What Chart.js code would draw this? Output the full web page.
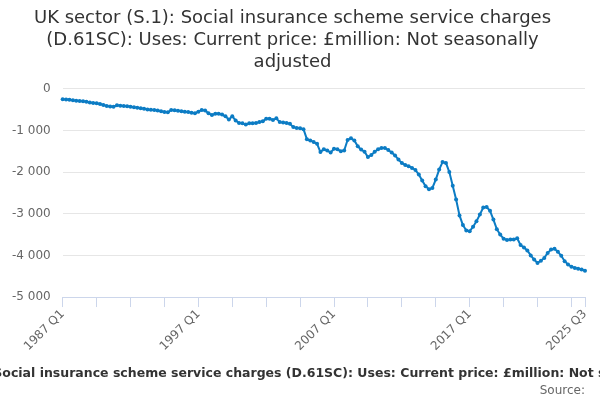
<!DOCTYPE html>
<html>
<head>
<meta charset="utf-8">
<script src="https://cdn.jsdelivr.net/npm/chart.js@4"></script>
<style>
  html, body { margin: 0; padding: 0; background: #fff; }
  #wrap { width: 600px; height: 400px; }
</style>
</head>
<body>
<div id="wrap"><canvas id="chartD61SC"></canvas></div>
<script>
// quarters 1987 Q1 .. 2025 Q3
var firstYear = 1987;
var lastYear = 2025;
var lastQuarter = 3;

// £million, one row per year
var values = [
  -250, -255, -265, -275,      // 1987
  -285, -295, -300, -310,      // 1988
  -330, -340, -345, -365,      // 1989
  -390, -410, -425, -430,      // 1990
  -395, -405, -415, -420,      // 1991
  -430, -440, -455, -465,      // 1992
  -480, -495, -505, -510,      // 1993
  -520, -540, -555, -565,      // 1994
  -510, -515, -525, -540,      // 1995
  -550, -560, -575, -585,      // 1996
  -550, -510, -520, -590,      // 1997
  -630, -600, -600, -620,      // 1998
  -660, -740, -660, -760,      // 1999
  -820, -830, -860, -830,      // 2000
  -830, -820, -800, -780,      // 2001
  -720, -720, -750, -710,      // 2002
  -800, -810, -820, -840,      // 2003
  -920, -940, -950, -970,      // 2004
  -1210, -1240, -1280, -1320,  // 2005
  -1520, -1450, -1480, -1530,  // 2006
  -1440, -1450, -1500, -1480,  // 2007
  -1230, -1190, -1240, -1380,  // 2008
  -1460, -1510, -1640, -1590,  // 2009
  -1510, -1450, -1420, -1420,  // 2010
  -1470, -1530, -1600, -1700,  // 2011
  -1780, -1830, -1860, -1900,  // 2012
  -1950, -2060, -2200, -2340,  // 2013
  -2410, -2380, -2180, -1940,  // 2014
  -1760, -1780, -2000, -2330,  // 2015
  -2660, -3040, -3270, -3400,  // 2016
  -3420, -3310, -3180, -3020,  // 2017
  -2850, -2840, -2930, -3140,  // 2018
  -3370, -3500, -3600, -3630,  // 2019
  -3620, -3620, -3590, -3750,  // 2020
  -3810, -3880, -4000, -4100,  // 2021
  -4180, -4130, -4060, -3940,  // 2022
  -3860, -3840, -3910, -4010,  // 2023
  -4140, -4220, -4270, -4300,  // 2024
  -4320, -4340, -4370          // 2025
];

var labels = [];
for (var y = firstYear; y <= lastYear; y++) {
  for (var q = 1; q <= 4; q++) {
    if (y == lastYear && q > lastQuarter) break;
    labels.push(y + " Q" + q);
  }
}

// which quarters get a tick mark, and which of those get a label
var tickEvery = 10;
var labelled = ["1987 Q1", "1997 Q1", "2007 Q1", "2017 Q1", "2025 Q3"];
var yTicks = [0, -1000, -2000, -3000, -4000, -5000];

var axisTitle = "UK sector (S.1): Social insurance scheme service charges (D.61SC): Uses: Current price: £million: Not seasonally adjusted";

// x axis title is wider than the canvas; draw it unsquashed so it gets clipped at the edges
var xTitlePlugin = {
  id: "xTitle",
  afterDraw: function (chart) {
    var c = chart.ctx;
    var area = chart.chartArea;
    c.save();
    c.font = "bold 12.5px 'DejaVu Sans'";
    c.fillStyle = "#333333";
    c.textAlign = "center";
    c.textBaseline = "middle";
    c.fillText(axisTitle, (area.left + area.right) / 2 - 16, 374);
    c.restore();
  }
};

var ctx = document.getElementById("chartD61SC").getContext("2d");

new Chart(ctx, {
  type: "line",
  data: {
    labels: labels,
    datasets: [{
      label: axisTitle,
      data: values,
      borderColor: "#0c7cc4",
      backgroundColor: "#0c7cc4",
      pointBackgroundColor: "#0c7cc4",
      pointBorderWidth: 0,
      pointRadius: 2,
      borderWidth: 2,
      tension: 0
    }]
  },
  plugins: [xTitlePlugin],
  options: {
    responsive: true,
    maintainAspectRatio: false,
    animation: false,
    layout: {
      padding: { left: 0, right: 15, top: 4, bottom: 0 }
    },
    plugins: {
      legend: { display: false },
      tooltip: { enabled: false },
      title: {
        display: true,
        text: [
          "UK sector (S.1): Social insurance scheme service charges",
          "(D.61SC): Uses: Current price: £million: Not seasonally",
          "adjusted"
        ],
        color: "#333333",
        font: { family: "DejaVu Sans", size: 18, weight: "normal", lineHeight: 1.2 },
        padding: { top: 4, bottom: 16 }
      },
      subtitle: {
        display: true,
        position: "bottom",
        align: "end",
        text: "Source:",
        color: "#666666",
        font: { family: "DejaVu Sans", size: 12, weight: "normal" },
        padding: { top: 30, bottom: 2 }
      }
    },
    scales: {
      y: {
        min: -5000,
        max: 0,
        afterBuildTicks: function (scale) {
          scale.ticks = yTicks.map(function (v) { return { value: v }; });
        },
        border: { display: false },
        grid: {
          color: "#e6e6e6",
          drawTicks: false
        },
        ticks: {
          padding: 12,
          color: "#666666",
          font: { family: "DejaVu Sans", size: 12 },
          callback: function (v) {
            return String(v).replace(/\B(?=(\d{3})+(?!\d))/g, " ");
          }
        }
      },
      x: {
        offset: false,
        afterBuildTicks: function (scale) {
          var t = [];
          for (var i = 0; i < labels.length; i += tickEvery) t.push({ value: i });
          t.push({ value: labels.length - 1 });
          scale.ticks = t;
        },
        border: { display: true, color: "#ccd6eb", width: 1 },
        grid: {
          drawOnChartArea: false,
          drawTicks: true,
          tickLength: 10,
          color: "#ccd6eb"
        },
        ticks: {
          autoSkip: false,
          maxRotation: 45,
          minRotation: 45,
          padding: 0,
          color: "#666666",
          font: { family: "DejaVu Sans", size: 12 },
          callback: function (value) {
            var lab = this.getLabelForValue(value);
            return labelled.indexOf(lab) >= 0 ? lab : "";
          }
        }
      }
    }
  }
});
</script>
</body>
</html>
